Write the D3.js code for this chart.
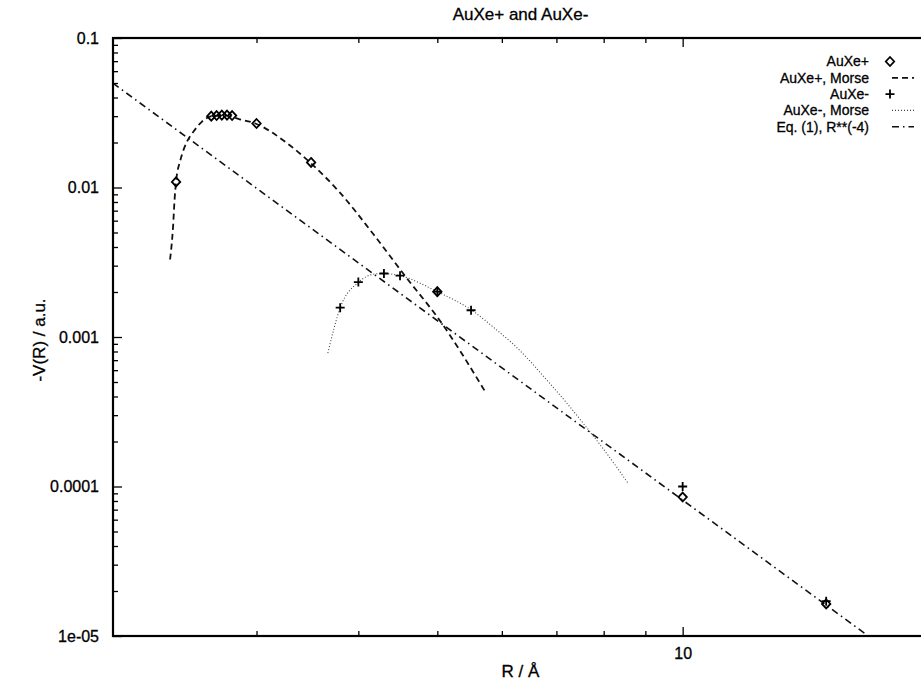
<!DOCTYPE html>
<html><head><meta charset="utf-8">
<script src="https://cdn.jsdelivr.net/npm/d3@7"></script>
<style>
body{margin:0;background:#fff}
text{font-family:"Liberation Sans",Arial,Helvetica,sans-serif;fill:#000;stroke:#000;stroke-width:0.3px}
</style></head><body>
<svg id="chart" width="921" height="682"></svg>
<script>
// ---------- data ----------
const title = "AuXe+ and AuXe-";
const xLabel = "R / Å";
const yLabel = "-V(R) / a.u.";
const xDomain = [2, 20];
const yDomain = [1e-5, 0.1];
const xMinorTicks = [3, 4, 5, 6, 7, 8, 9];
const xMajorTicks = [10];
const xTickLabels = ["10"];
const yMajorTicks = [1e-5, 1e-4, 1e-3, 1e-2, 1e-1];
const yTickLabels = ["1e-05", "0.0001", "0.001", "0.01", "0.1"];
const yMinorMultipliers = [2, 3, 4, 5, 6, 7, 8, 9];

const auxePlusR = [2.39, 2.64, 2.68, 2.72, 2.76, 2.80, 3.0, 3.5, 5.0, 10, 15];
const auxePlusV = [0.0109, 0.0300, 0.0303, 0.0305, 0.0305, 0.0303, 0.0268, 0.0147, 0.00201, 8.5e-5, 1.64e-5];

const morsePlusR = [2.35, 2.37, 2.38, 2.39, 2.42, 2.46, 2.51, 2.57, 2.65, 2.74, 2.86, 2.99, 3.27, 3.49, 3.80, 4.17, 4.58, 5.03, 5.74];
const morsePlusV = [0.0033, 0.0055, 0.0083, 0.0109, 0.0153, 0.0198, 0.0236, 0.0275, 0.0301, 0.0303, 0.0286, 0.0268, 0.0198, 0.0147, 0.0092, 0.0049, 0.0025, 0.0013, 0.00042];

const auxeMinusR = [3.8, 4.0, 4.3, 4.5, 5.0, 5.5, 10, 15];
const auxeMinusV = [0.00157, 0.00233, 0.00266, 0.00257, 0.00201, 0.00151, 1.0e-4, 1.71e-5];

const morseMinusR = [3.67, 3.80, 4.00, 4.19, 4.29, 4.50, 5.00, 5.52, 5.93, 6.19, 6.87, 7.55, 8.29, 8.57];
const morseMinusV = [0.00078, 0.00157, 0.00232, 0.00264, 0.00266, 0.00257, 0.00201, 0.00150, 0.00110, 0.00090, 0.00049, 0.000265, 0.000136, 0.000105];

const eq1R = [2.0, 16.9];
const eq1V = [0.0498, 1.0e-5];

const legendLabels = ["AuXe+", "AuXe+, Morse", "AuXe-", "AuXe-, Morse", "Eq. (1), R**(-4)"];

// ---------- layout ----------
const W = 921, H = 682;
const L = 113, R = 928, T = 38, B = 636;
const svg = d3.select("#chart");
svg.append("rect").attr("width", W).attr("height", H).attr("fill", "#fff");

const x = d3.scaleLog().domain(xDomain).range([L, R]);
const y = d3.scaleLog().domain(yDomain).range([B, T]);

svg.append("defs").append("clipPath").attr("id", "clip")
  .append("rect").attr("x", L).attr("y", T).attr("width", R - L).attr("height", B - T);

const zip = (a, b) => a.map((v, i) => [v, b[i]]);

const styles = {
  dashed: {dash: "6,4", w: 1.8, c: "#111"},
  dotted: {dash: "1,2", w: 1.1, c: "#444"},
  dashdot: {dash: "7,4,1.5,4", w: 1.6, c: "#111"}
};

const plot = svg.append("g").attr("clip-path", "url(#clip)");
const line = d3.line().x(d => x(d[0])).y(d => y(d[1])).curve(d3.curveMonotoneX);
const straight = d3.line().x(d => x(d[0])).y(d => y(d[1]));

function drawLine(data, st, gen) {
  plot.append("path").datum(data).attr("d", gen)
    .attr("fill", "none").attr("stroke", st.c).attr("stroke-width", st.w)
    .attr("stroke-dasharray", st.dash);
}
drawLine(zip(eq1R, eq1V), styles.dashdot, straight);
drawLine(zip(morsePlusR, morsePlusV), styles.dashed, line);
drawLine(zip(morseMinusR, morseMinusV), styles.dotted, line);

function diamond(g, cx, cy) {
  g.append("path").attr("d", `M${cx},${cy-4.5}L${cx+4.2},${cy}L${cx},${cy+4.5}L${cx-4.2},${cy}Z`)
    .attr("fill", "none").attr("stroke", "#000").attr("stroke-width", 1.8);
}
function plus(g, cx, cy) {
  g.append("path").attr("d", `M${cx-4.5},${cy}H${cx+4.5}M${cx},${cy-4.5}V${cy+4.5}`)
    .attr("fill", "none").attr("stroke", "#000").attr("stroke-width", 1.8);
}
zip(auxePlusR, auxePlusV).forEach(d => diamond(plot, x(d[0]), y(d[1])));
zip(auxeMinusR, auxeMinusV).forEach(d => plus(plot, x(d[0]), y(d[1])));

// ---------- axes ----------
const yMinorTicks = [];
yMajorTicks.slice(0, -1).forEach(dec => yMinorMultipliers.forEach(m => yMinorTicks.push(dec * m)));

function styleAxis(g) {
  g.select(".domain").remove();
  g.selectAll("line").attr("stroke", "#000").attr("stroke-width", 1.3);
  g.selectAll("text").style("font-size", "16px").attr("fill", "#000");
}
// bottom
svg.append("g").attr("transform", `translate(0,${B})`)
  .call(d3.axisBottom(x).tickValues(xMinorTicks).tickSize(-5).tickFormat(""))
  .call(styleAxis);
svg.append("g").attr("transform", `translate(0,${B})`)
  .call(d3.axisBottom(x).tickValues(xMajorTicks).tickSize(-9).tickPadding(12)
    .tickFormat((d, i) => xTickLabels[i]))
  .call(styleAxis);
// top
svg.append("g").attr("transform", `translate(0,${T})`)
  .call(d3.axisTop(x).tickValues(xMinorTicks).tickSize(-5).tickFormat(""))
  .call(styleAxis);
svg.append("g").attr("transform", `translate(0,${T})`)
  .call(d3.axisTop(x).tickValues(xMajorTicks).tickSize(-9).tickFormat(""))
  .call(styleAxis);
// left
svg.append("g").attr("transform", `translate(${L},0)`)
  .call(d3.axisLeft(y).tickValues(yMinorTicks).tickSize(-5).tickFormat(""))
  .call(styleAxis);
svg.append("g").attr("transform", `translate(${L},0)`)
  .call(d3.axisLeft(y).tickValues(yMajorTicks).tickSize(-9).tickPadding(14)
    .tickFormat((d, i) => yTickLabels[i]))
  .call(styleAxis);

// frame
svg.append("rect").attr("x", L).attr("y", T).attr("width", R - L).attr("height", B - T)
  .attr("fill", "none").attr("stroke", "#000").attr("stroke-width", 2.2);

// ---------- texts ----------
svg.append("text").attr("x", (L + R) / 2).attr("y", 20).attr("text-anchor", "middle")
  .style("font-size", "17px").text(title);
svg.append("text").attr("x", (L + R) / 2).attr("y", 677).attr("text-anchor", "middle")
  .style("font-size", "17px").text(xLabel);
svg.append("text").attr("transform", `translate(45,${(T + B) / 2 + 3}) rotate(-90)`)
  .attr("text-anchor", "middle").style("font-size", "17px").text(yLabel);

// ---------- legend ----------
const legY0 = 61.5, legDy = 16.3, legTextX = 869, sampleX0 = 892, sampleX1 = 914, symX = 890;
const leg = svg.append("g");
legendLabels.forEach((lab, i) => {
  const cy = legY0 + i * legDy;
  leg.append("text").attr("x", legTextX).attr("y", cy).attr("dy", "0.35em")
    .attr("text-anchor", "end").style("font-size", "14px").text(lab);
});
diamond(leg, symX, legY0);
plus(leg, symX, legY0 + 2 * legDy);
[[1, styles.dashed], [3, styles.dotted], [4, styles.dashdot]].forEach(([i, st]) => {
  const cy = legY0 + i * legDy;
  leg.append("line").attr("x1", sampleX0).attr("x2", sampleX1).attr("y1", cy).attr("y2", cy)
    .attr("stroke", st.c).attr("stroke-width", st.w).attr("stroke-dasharray", st.dash);
});
</script>
</body></html>
